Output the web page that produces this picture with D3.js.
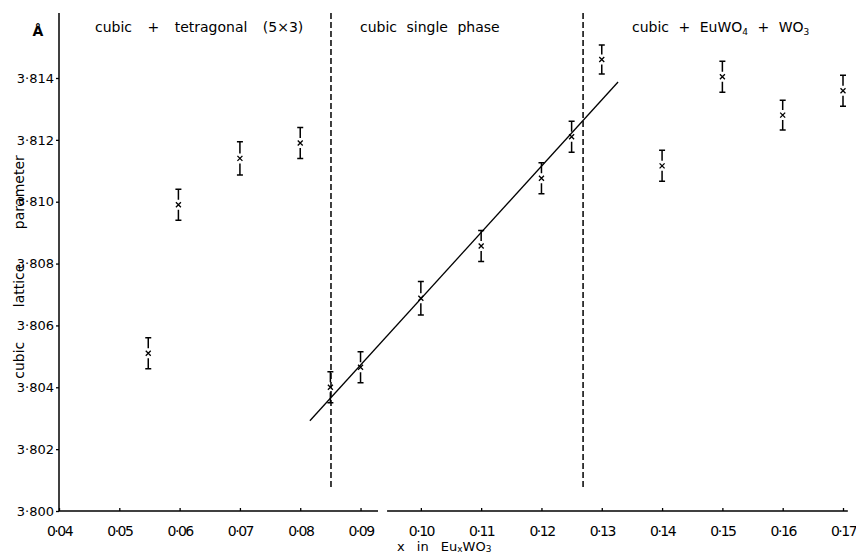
<!DOCTYPE html>
<html>
<head>
<meta charset="utf-8">
<script src="https://cdn.jsdelivr.net/npm/d3@7"></script>
<style>
  body { margin: 0; background: #fff; }
  svg, svg text { font-family: "DejaVu Sans", sans-serif; }
</style>
</head>
<body>
<div id="svg_area"></div>
<script>
// Data
var compX = [0.0548, 0.0598, 0.070, 0.080, 0.085, 0.090, 0.100, 0.110, 0.120, 0.125, 0.130, 0.140, 0.150, 0.160, 0.170];
var latticeA = [3.8051, 3.8099, 3.8114, 3.8119, 3.8040, 3.80465, 3.80688, 3.80857, 3.81076, 3.8121, 3.8146, 3.81116, 3.81404, 3.8128, 3.81359];
var errA = [0.0005, 0.0005, 0.00054, 0.0005, 0.0005, 0.0005, 0.00054, 0.0005, 0.0005, 0.0005, 0.00047, 0.0005, 0.0005, 0.00048, 0.0005];

// straight line through the single phase points
var fitX = [0.0816, 0.1327];
var fitY = [3.80292, 3.81387];

// phase boundaries
var boundaryX = [0.0851, 0.1269];

var xTicks = [0.04, 0.05, 0.06, 0.07, 0.08, 0.09, 0.10, 0.11, 0.12, 0.13, 0.14, 0.15, 0.16, 0.17];
var yTicks = [3.800, 3.802, 3.804, 3.806, 3.808, 3.810, 3.812, 3.814];

var svgWidth = 856;
var svgHeight = 553;

var svg = d3.select("#svg_area")
  .append("svg")
  .attr("width", svgWidth)
  .attr("height", svgHeight);

var xScale = d3.scaleLinear().domain([0.04, 0.17]).range([59, 843]);
var yScale = d3.scaleLinear().domain([3.800, 3.814]).range([511, 78]);

var dotted = s => s.replace(".", "·");

// x axis, ticks point upward
var xAxis = svg.append("g")
  .attr("transform", "translate(0," + yScale(3.800) + ")")
  .call(d3.axisBottom(xScale)
    .tickValues(xTicks)
    .tickSizeInner(-3)
    .tickSizeOuter(0)
    .tickPadding(15)
    .tickFormat(d => dotted(d3.format(".2f")(d))));
xAxis.attr("font-family", null);
xAxis.select(".domain").remove();
xAxis.selectAll("line").attr("stroke", "#000").attr("stroke-width", 1.3);
xAxis.selectAll("text")
  .attr("font-size", "14px")
  .attr("letter-spacing", "-1.5px")
  .attr("fill", "#000");

// axis line has a small break near 0.093
[[0.04, 0.0929], [0.0944, 0.1708]].forEach(function(seg) {
  svg.append("line")
    .attr("x1", xScale(seg[0])).attr("x2", xScale(seg[1]))
    .attr("y1", yScale(3.800)).attr("y2", yScale(3.800))
    .attr("stroke", "#000").attr("stroke-width", 1.5);
});

// y axis
var yAxis = svg.append("g")
  .attr("transform", "translate(" + xScale(0.04) + ",0)")
  .call(d3.axisLeft(yScale)
    .tickValues(yTicks)
    .tickSizeInner(3)
    .tickSizeOuter(0)
    .tickPadding(2)
    .tickFormat(d => dotted(d3.format(".3f")(d))));
yAxis.attr("font-family", null);
yAxis.select(".domain").remove();
yAxis.selectAll("line").attr("stroke", "#000").attr("stroke-width", 1.3);
yAxis.selectAll("text").attr("font-size", "13px").attr("fill", "#000");

svg.append("line")
  .attr("x1", xScale(0.04)).attr("x2", xScale(0.04))
  .attr("y1", yScale(3.800)).attr("y2", yScale(3.8161))
  .attr("stroke", "#000").attr("stroke-width", 1.5);

// phase boundaries
svg.selectAll(".boundary")
  .data(boundaryX)
  .enter()
  .append("line")
  .attr("class", "boundary")
  .attr("x1", d => xScale(d)).attr("x2", d => xScale(d))
  .attr("y1", yScale(3.8161)).attr("y2", yScale(3.8007))
  .attr("stroke", "#000")
  .attr("stroke-width", 1.5)
  .attr("stroke-dasharray", "6,3");

// fitted line
svg.append("line")
  .attr("x1", xScale(fitX[0])).attr("y1", yScale(fitY[0]))
  .attr("x2", xScale(fitX[1])).attr("y2", yScale(fitY[1]))
  .attr("stroke", "#000")
  .attr("stroke-width", 1.3);

// error bars: T cap, cross, inverted T cap
var points = compX.map((x, i) => ({ x: x, v: latticeA[i], e: errA[i] }));
var pts = svg.selectAll(".pt")
  .data(points)
  .enter()
  .append("g")
  .attr("class", "pt")
  .attr("stroke", "#000")
  .attr("stroke-width", 1.5)
  .attr("fill", "none");

pts.append("path")
  .attr("d", function(d) {
    var cx = xScale(d.x), cy = yScale(d.v);
    var top = yScale(d.v + d.e), bot = yScale(d.v - d.e);
    return "M" + (cx - 3) + "," + top + "H" + (cx + 3) +
      "M" + cx + "," + top + "V" + (cy - 5) +
      "M" + cx + "," + (cy + 5) + "V" + bot +
      "M" + (cx - 3) + "," + bot + "H" + (cx + 3);
  });

pts.append("path")
  .attr("stroke-width", 1.3)
  .attr("d", function(d) {
    var cx = xScale(d.x), cy = yScale(d.v);
    return "M" + (cx - 2.5) + "," + (cy - 2.5) + "L" + (cx + 2.5) + "," + (cy + 2.5) +
      "M" + (cx - 2.5) + "," + (cy + 2.5) + "L" + (cx + 2.5) + "," + (cy - 2.5);
  });

// labels
svg.append("text")
  .attr("x", 38).attr("y", 36)
  .attr("text-anchor", "middle")
  .attr("font-size", "14px")
  .attr("font-weight", "bold")
  .text("Å");

svg.append("text")
  .attr("transform", "translate(24,267) rotate(-90)")
  .attr("text-anchor", "middle")
  .attr("font-size", "14px")
  .attr("word-spacing", "30px")
  .text("cubic lattice parameter");

svg.append("text")
  .attr("x", 95).attr("y", 32)
  .attr("font-size", "14px")
  .attr("word-spacing", "11px")
  .text("cubic + tetragonal (5×3)");

svg.append("text")
  .attr("x", 360).attr("y", 32)
  .attr("font-size", "14px")
  .attr("word-spacing", "5px")
  .text("cubic single phase");

var region3 = svg.append("text")
  .attr("x", 632).attr("y", 32)
  .attr("font-size", "14px")
  .attr("word-spacing", "5px");
region3.append("tspan").text("cubic + EuWO");
region3.append("tspan").attr("font-size", "9px").attr("dy", 3).text("4");
region3.append("tspan").attr("dy", -3).text(" + WO");
region3.append("tspan").attr("font-size", "9px").attr("dy", 3).text("3");

var xLabel = svg.append("text")
  .attr("x", 397).attr("y", 551)
  .attr("font-size", "13px")
  .attr("word-spacing", "8px");
xLabel.append("tspan").text("x in Eu");
xLabel.append("tspan").attr("font-size", "9px").attr("dy", 1).text("x");
xLabel.append("tspan").attr("dy", -1).text("WO");
xLabel.append("tspan").attr("font-size", "9px").attr("dy", 1).text("3");
</script>
</body>
</html>
